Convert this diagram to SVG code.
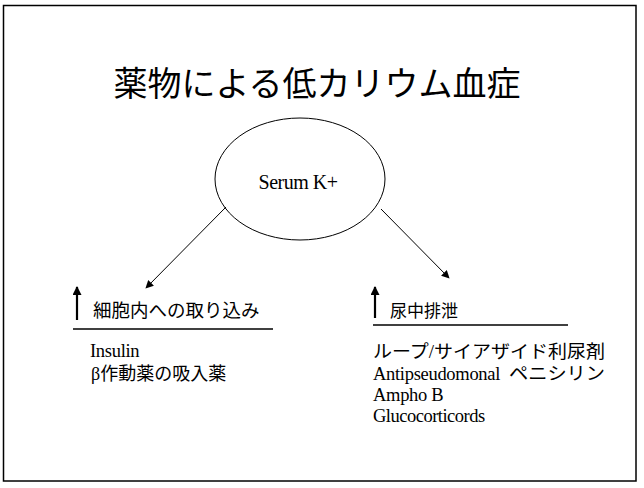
<svg xmlns="http://www.w3.org/2000/svg" width="644" height="488" viewBox="0 0 644 488">
<style>
.t{font-family:"Liberation Serif","Noto Sans CJK JP",serif;fill:#000}
.c{stroke:#000;stroke-width:1;fill:none}
.up{stroke:#000;stroke-width:2.2}
.ul{stroke:#000;stroke-width:1.3}
</style>
<defs>
<marker id="ah" viewBox="0 0 10 10" refX="9" refY="5" markerWidth="8" markerHeight="8" markerUnits="userSpaceOnUse" orient="auto"><path d="M0,0 L10,5 L0,10 z" fill="#000"/></marker>
<marker id="uh" viewBox="0 0 10 10" refX="9" refY="5" markerWidth="10" markerHeight="9" markerUnits="userSpaceOnUse" orient="auto"><path d="M0,0 L10,5 L0,10 z" fill="#000"/></marker>
</defs>
<rect x="3.5" y="5.5" width="632.5" height="475.5" fill="#fff" stroke="#000" stroke-width="1.5"/>
<text class="t" x="317" y="96" font-size="34" text-anchor="middle">薬物による低カリウム血症</text>
<g id="serum">
<ellipse cx="300" cy="179" rx="85" ry="61" fill="none" stroke="#000" stroke-width="1"/>
<text class="t" x="298" y="189" font-size="20" text-anchor="middle" letter-spacing="-0.5">Serum K+</text>
</g>
<g id="connectors">
<line class="c" x1="226" y1="207" x2="146" y2="288" marker-end="url(#ah)"/>
<line class="c" x1="381" y1="209" x2="449" y2="278" marker-end="url(#ah)"/>
</g>
<g id="uptake">
<line class="up" x1="77" y1="320" x2="77" y2="287" marker-end="url(#uh)"/>
<text class="t" x="93" y="317" font-size="18.5">細胞内への取り込み</text>
<line class="ul" x1="73" y1="329" x2="273" y2="329"/>
<text class="t" x="90" y="357" font-size="18.5" letter-spacing="-0.3">Insulin</text>
<text class="t" x="91" y="380" font-size="18">β作動薬の吸入薬</text>
</g>
<g id="excretion">
<line class="up" x1="375" y1="318" x2="375" y2="287" marker-end="url(#uh)"/>
<text class="t" x="390" y="317" font-size="17">尿中排泄</text>
<line class="ul" x1="373" y1="325" x2="568" y2="325"/>
<text class="t" x="373" y="358" font-size="18" textLength="232" lengthAdjust="spacingAndGlyphs">ループ/サイアザイド利尿剤</text>
<text class="t" x="373" y="380" font-size="18.5" letter-spacing="-0.3">Antipseudomonal <tspan x="509" font-size="18" letter-spacing="0" textLength="96" lengthAdjust="spacingAndGlyphs">ペニシリン</tspan></text>
<text class="t" x="373" y="401" font-size="18.5" letter-spacing="-0.3">Ampho B</text>
<text class="t" x="373" y="422" font-size="18.5" letter-spacing="-0.5">Glucocorticords</text>
</g>
</svg>
